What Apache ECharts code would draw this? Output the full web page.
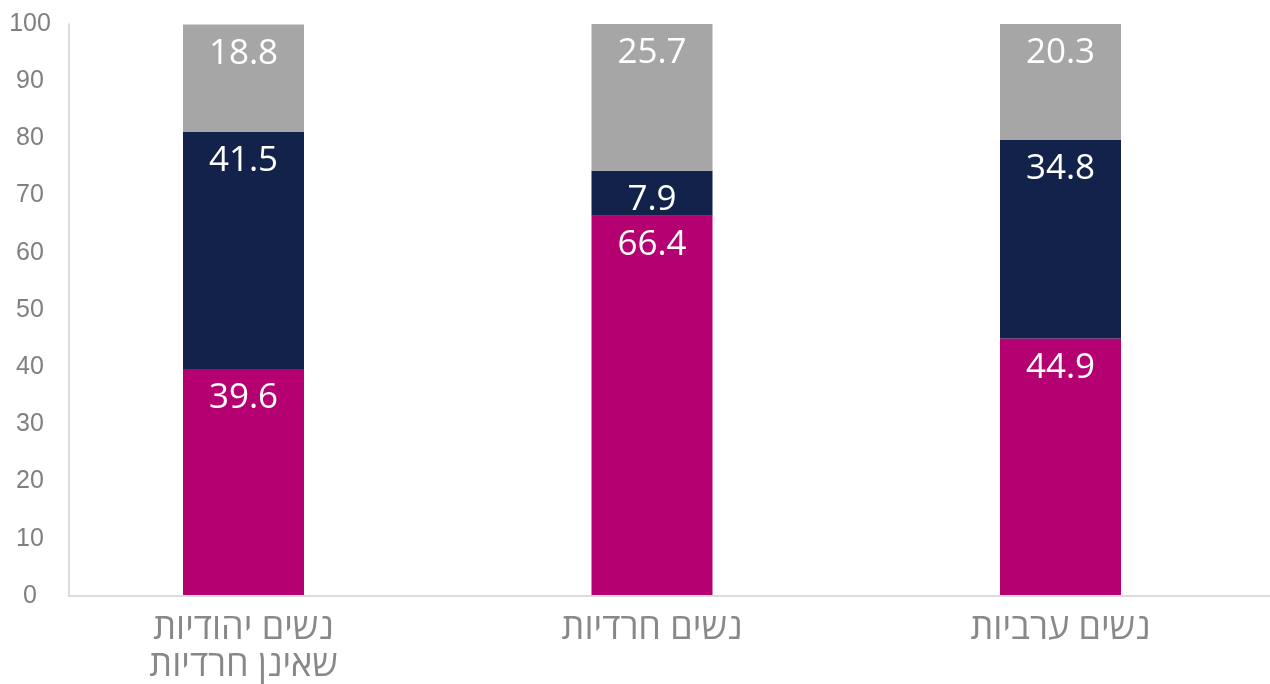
<!DOCTYPE html>
<html>
<head>
<meta charset="utf-8">
<script src="https://cdn.jsdelivr.net/npm/echarts@6/dist/echarts.min.js"></script>
<style>
  html, body { margin: 0; padding: 0; background: #fff; }
  #chart { width: 1270px; height: 684px; }
</style>
</head>
<body>
<div id="chart"></div>
<script>
const categories = ['נשים יהודיות\nשאינן חרדיות', 'נשים חרדיות', 'נשים ערביות'];
const bottomValues = [39.6, 66.4, 44.9];
const middleValues = [41.5, 7.9, 34.8];
const topValues = [18.8, 25.7, 20.3];

const colors = ['#B50071', '#12224A', '#A6A6A6'];

function stackSeries(name, data, color) {
  return {
    name: name,
    type: 'bar',
    stack: 'total',
    data: data,
    barWidth: 121,
    itemStyle: { color: color },
    label: {
      show: true,
      position: 'insideTop',
      distance: 12,
      color: '#fff',
      fontFamily: 'Open Sans',
      fontSize: 35,
      formatter: (p) => p.value.toFixed(1),
    },
  };
}

const chart = echarts.init(document.getElementById('chart'));
chart.setOption({
  animation: false,
  grid: [
    { left: 39.25, right: 5.25, top: 24, bottom: 88 },
    { left: 69, right: 0, top: 24, bottom: 88 },
  ],
  xAxis: [
    {
      type: 'category',
      gridIndex: 0,
      data: categories,
      axisLine: { show: false },
      axisTick: { show: false },
      axisLabel: {
        margin: 15,
        color: '#888',
        fontFamily: 'Open Sans',
        fontSize: 36,
        lineHeight: 37,
      },
    },
    {
      type: 'value',
      gridIndex: 1,
      min: 0,
      max: 1,
      axisLine: { show: true, lineStyle: { color: '#d0d0d0', width: 1.5 } },
      axisTick: { show: false },
      axisLabel: { show: false },
      splitLine: { show: false },
    },
  ],
  yAxis: [
    { type: 'value', gridIndex: 0, min: 0, max: 100, show: false },
    {
      type: 'value',
      gridIndex: 1,
      min: 0,
      max: 100,
      interval: 10,
      axisLine: { show: true, lineStyle: { color: '#d0d0d0', width: 1.5 } },
      axisTick: { show: false },
      splitLine: { show: false },
      axisLabel: {
        margin: 39,
        align: 'center',
        color: '#808080',
        fontFamily: 'Liberation Sans',
        fontSize: 25,
      },
    },
  ],
  series: [
    stackSeries('bottom', bottomValues, colors[0]),
    stackSeries('middle', middleValues, colors[1]),
    stackSeries('top', topValues, colors[2]),
  ],
});
</script>
</body>
</html>
